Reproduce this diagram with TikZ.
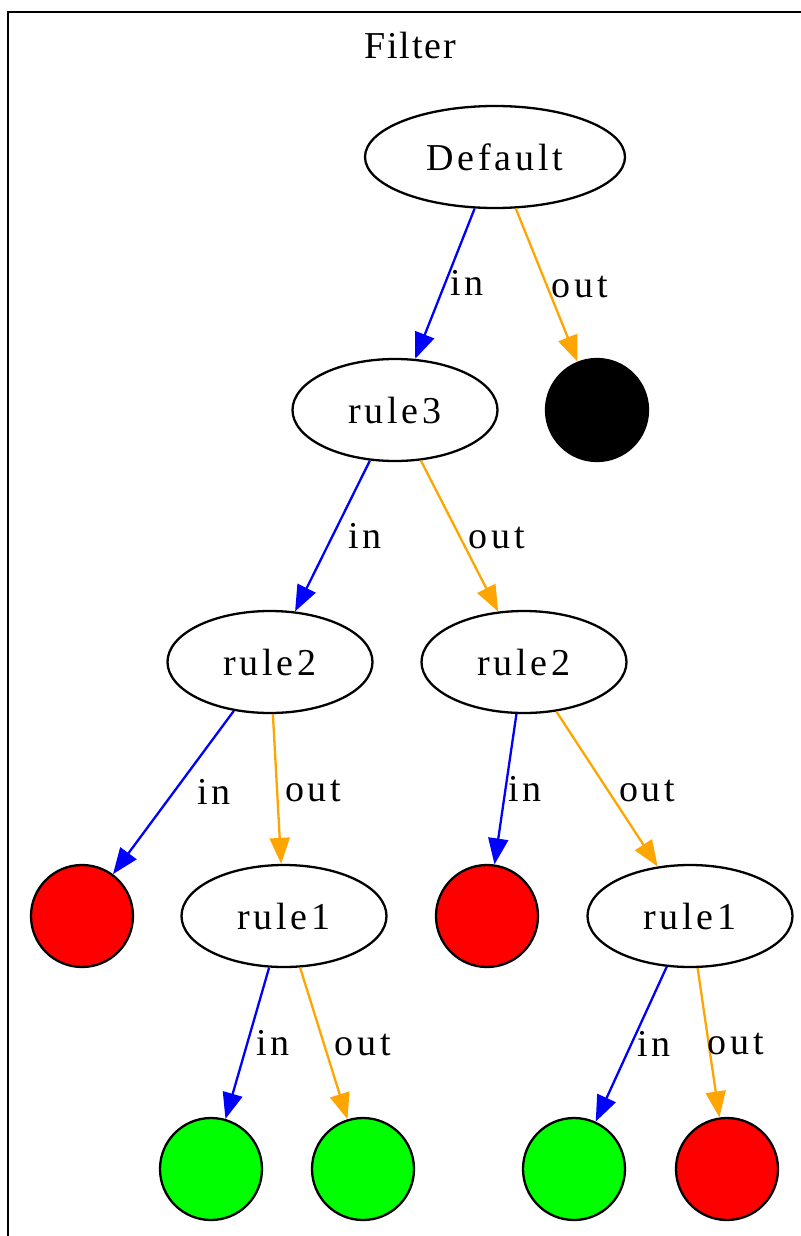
\documentclass[tikz,border=0pt]{standalone}
\usepackage{fontspec}
\usetikzlibrary{shapes.geometric,arrows.meta}

\newfontfamily\lblfont{Liberation Serif}[LetterSpace=10]
\newfontfamily\titlefont{Liberation Serif}[LetterSpace=5]

\definecolor{inblue}{RGB}{0,0,255}
\definecolor{outorange}{RGB}{255,165,0}
\definecolor{passgreen}{RGB}{0,255,0}
\definecolor{dropred}{RGB}{255,0,0}

\begin{document}
\begin{tikzpicture}[x=0.5pt, y=-0.5pt,
  rule/.style={ellipse, draw, line width=1.15pt, minimum width=102.5pt, minimum height=51pt,
    inner sep=0pt, font=\lblfont\fontsize{19}{22}\selectfont},
  verdict/.style={circle, draw, line width=1.15pt, minimum size=51pt, inner sep=0pt},
  lbl/.style={anchor=base west, yshift=-6pt, inner sep=0pt, font=\lblfont\fontsize{19}{22}\selectfont, text=black},
  inedge/.style={draw=inblue, line width=1.15pt, -{Triangle[length=13pt, width=10pt]}, inblue},
  outedge/.style={draw=outorange, line width=1.15pt, -{Triangle[length=13pt, width=10pt]}, outorange}]
  \useasboundingbox (0,0) rectangle (801,1236);

  % Cluster frame and title
  \draw[line width=1.15pt] (8,1236) -- (8,12) -- (801,12);
  \node[font=\titlefont\fontsize{19}{22}\selectfont] (title) at (410,46) {Filter};

  % Rule nodes
  \node[rule, minimum width=130pt] (default) at (495,157) {Default};
  \node[rule] (r3) at (395,410) {rule3};
  \node[rule] (r2a) at (270,662) {rule2};
  \node[rule] (r2b) at (524,662) {rule2};
  \node[rule] (r1a) at (284,916) {rule1};
  \node[rule] (r1b) at (690,916) {rule1};

  % Verdicts
  \node[verdict, fill=black] (v0) at (597,410) {};
  \node[verdict, fill=dropred] (v1) at (82,916) {};
  \node[verdict, fill=dropred] (v2) at (487,916) {};
  \node[verdict, fill=passgreen] (v3) at (211,1169) {};
  \node[verdict, fill=passgreen] (v4) at (363,1169) {};
  \node[verdict, fill=passgreen] (v5) at (574,1169) {};
  \node[verdict, fill=dropred] (v6) at (727,1169) {};

  % Arrows for in
  \draw[inedge] (default) to node[lbl, xshift=2pt] {in} (r3);
  \draw[inedge] (r3) to node[lbl, xshift=7.5pt] {in} (r2a);
  \draw[inedge] (r2a) to node[lbl, xshift=11.5pt] {in} (v1);
  \draw[inedge] (r2b) to node[lbl, xshift=1pt] {in} (v2);
  \draw[inedge] (r1a) to node[lbl, xshift=4pt] {in} (v3);
  \draw[inedge] (r1b) to node[lbl, xshift=2.5pt] {in} (v5);

  % Arrows for out
  \draw[outedge] (default) to node[lbl, xshift=2pt] {out} (v0);
  \draw[outedge] (r3) to node[lbl, xshift=4pt] {out} (r2b);
  \draw[outedge] (r2a) to node[lbl, xshift=3.5pt] {out} (r1a);
  \draw[outedge] (r2b) to node[lbl, xshift=5.5pt] {out} (r1b);
  \draw[outedge] (r1a) to node[lbl, xshift=5pt] {out} (v4);
  \draw[outedge] (r1b) to node[lbl, xshift=-1pt] {out} (v6);
\end{tikzpicture}
\end{document}
